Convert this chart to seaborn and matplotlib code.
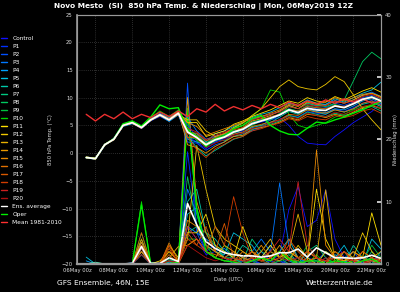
import numpy as np
import pandas as pd
import matplotlib
matplotlib.use("Agg")
import matplotlib.pyplot as plt
from matplotlib.lines import Line2D
import seaborn as sns

# time axis: hours since 06May 00z, 12-hourly steps up to 22May 12z
hours = np.arange(12, 397, 12)
days = hours / 24.0

members = ["Control"] + [f"P{i}" for i in range(1, 21)]
member_colors = ["#1010ff", "#0030ff", "#0050ff", "#0078ff", "#00a0ff", "#00c0e0",
                 "#00c8a8", "#00c880", "#00c860", "#00c040", "#00d400",
                 "#ffe000", "#f0c800", "#e8b000", "#e89800", "#e88800", "#e07000",
                 "#d85800", "#d03c00", "#cc2020", "#aa1010"]

# 850 hPa temperature (degC) per member
t_control = [-0.8, -1.1, 1.4, 2.6, 5.1, 5.4, 4.4, 5.8, 6.6, 5.8, 7.0,
             3.0, 2.0, 0.8, 2.0, 2.6, 3.4, 4.0, 5.2, 5.6, 6.0, 6.4,
             5.0, 3.0, 1.8, 1.6, 1.5, 3.0, 4.2, 5.5, 6.5, 7.5, 9.0]
t_p1 = [-0.9, -1.0, 1.6, 2.4, 4.9, 5.6, 4.8, 6.2, 7.0, 6.2, 7.4,
        5.0, 3.0, 1.5, 2.0, 3.0, 3.0, 3.5, 4.0, 4.6, 5.5, 6.0,
        6.8, 6.5, 7.5, 7.2, 7.0, 8.0, 7.5, 8.2, 9.0, 9.5, 8.8]
t_p2 = [-0.7, -0.9, 1.5, 2.5, 5.0, 5.5, 4.5, 6.1, 6.9, 5.9, 7.3,
        2.0, 1.8, 0.5, 1.5, 2.0, 3.8, 4.5, 5.5, 6.0, 6.5, 7.0,
        8.0, 7.5, 8.5, 8.0, 8.2, 9.0, 8.6, 9.2, 10.0, 10.4, 9.8]
t_p3 = [-0.8, -1.0, 1.3, 2.7, 5.2, 5.7, 4.6, 6.0, 7.2, 6.4, 7.6,
        6.5, 4.0, 2.5, 3.0, 3.5, 4.5, 5.0, 6.0, 6.6, 7.0, 7.5,
        8.6, 8.0, 9.0, 8.5, 8.8, 9.5, 9.0, 9.6, 10.5, 11.0, 10.2]
t_p4 = [-0.9, -1.1, 1.5, 2.4, 4.8, 5.3, 4.7, 5.9, 6.7, 5.7, 6.9,
        2.5, 2.0, 1.5, 3.0, 3.4, 4.0, 3.6, 4.6, 5.0, 6.0, 6.8,
        7.8, 7.2, 8.0, 7.5, 7.3, 8.0, 7.8, 8.5, 9.4, 9.8, 9.0]
t_p5 = [-0.8, -1.0, 1.6, 2.6, 5.0, 5.6, 4.8, 6.2, 7.1, 6.3, 7.4,
        3.5, 3.5, 2.0, 3.5, 4.0, 4.8, 5.5, 6.4, 7.0, 7.4, 8.2,
        9.0, 8.6, 9.6, 9.0, 8.8, 9.8, 9.2, 10.0, 10.8, 11.4, 12.8]
t_p6 = [-0.8, -1.0, 1.5, 2.5, 5.0, 5.5, 4.6, 6.0, 6.9, 6.1, 7.2,
        3.0, 1.0, -0.5, 0.5, 1.5, 2.5, 3.0, 4.2, 4.8, 5.5, 6.5,
        7.5, 7.0, 7.8, 7.4, 7.0, 7.8, 7.4, 8.0, 8.8, 9.2, 8.4]
t_p7 = [-0.7, -0.9, 1.4, 2.6, 5.1, 5.6, 4.7, 6.1, 7.0, 6.0, 7.3,
        2.8, 2.6, 1.8, 2.6, 2.2, 3.0, 3.5, 4.8, 5.0, 5.2, 5.8,
        6.8, 6.4, 7.4, 7.0, 6.6, 7.2, 6.8, 7.2, 8.0, 8.4, 7.6]
t_p8 = [-0.8, -1.0, 1.5, 2.4, 4.9, 5.4, 4.5, 5.9, 6.8, 6.0, 7.1,
        4.0, 3.0, 1.8, 2.8, 3.2, 4.0, 4.4, 5.6, 6.0, 6.4, 7.0,
        8.4, 8.0, 9.0, 8.6, 8.4, 9.0, 9.6, 13.0, 16.5, 18.2, 17.0]
t_p9 = [-0.8, -1.0, 1.6, 2.5, 5.0, 5.5, 4.6, 6.0, 6.9, 6.1, 7.2,
        4.5, 2.2, 1.2, 2.2, 2.8, 3.6, 4.2, 5.0, 5.8, 6.0, 7.2,
        8.0, 7.6, 8.6, 8.2, 8.0, 8.8, 8.2, 9.0, 9.8, 10.2, 9.6]
t_p10 = [-0.8, -1.0, 1.5, 2.5, 5.2, 5.8, 4.8, 6.4, 7.6, 6.6, 7.8,
         3.5, 2.4, 1.2, 2.6, 3.4, 4.6, 5.4, 6.6, 8.0, 11.4, 11.0,
         7.0, 5.0, 4.5, 5.0, 5.5, 6.5, 7.0, 7.8, 8.4, 8.6, 8.2]
t_p11 = [-0.7, -0.9, 1.4, 2.5, 5.0, 5.5, 4.7, 6.0, 7.0, 6.2, 7.4,
         5.5, 5.5, 3.0, 3.5, 4.0, 5.2, 5.8, 6.6, 7.2, 7.8, 8.6,
         9.4, 9.0, 10.0, 9.4, 9.2, 10.2, 9.6, 10.4, 11.2, 11.8, 11.0]
t_p12 = [-0.8, -1.1, 1.5, 2.6, 5.0, 5.4, 4.5, 5.9, 6.8, 5.9, 7.0,
         6.0, 6.0, 4.0, 3.0, 3.5, 4.6, 5.4, 6.8, 8.0, 10.0, 12.0,
         13.2, 12.0, 11.6, 11.4, 12.4, 13.8, 12.9, 10.5, 8.0, 6.0, 4.2]
t_p13 = [-0.8, -1.0, 1.5, 2.4, 4.9, 5.5, 4.6, 6.1, 6.9, 6.0, 7.2,
         4.0, 3.2, 1.6, 2.6, 3.0, 3.8, 4.6, 5.8, 6.2, 6.8, 7.6,
         8.6, 8.0, 9.2, 8.8, 8.6, 9.4, 9.0, 9.6, 10.4, 10.8, 10.2]
t_p14 = [-0.8, -1.0, 1.6, 2.6, 5.1, 5.6, 4.6, 6.0, 7.0, 6.2, 7.5,
         1.5, 1.0, 0.0, 1.2, 2.0, 3.0, 3.2, 4.4, 4.6, 5.0, 5.6,
         6.4, 6.0, 7.0, 6.8, 6.4, 7.0, 6.6, 7.4, 8.2, 8.6, 8.0]
t_p15 = [-0.7, -0.9, 1.4, 2.5, 5.0, 5.4, 4.5, 5.9, 6.8, 6.0, 7.0,
         5.5, 4.8, 3.2, 3.8, 4.4, 5.0, 5.6, 6.2, 6.6, 7.2, 7.8,
         8.8, 8.4, 9.4, 9.0, 9.2, 10.0, 9.4, 10.0, 10.6, 10.8, 10.0]
t_p16 = [-0.8, -1.0, 1.5, 2.5, 5.0, 5.6, 4.7, 6.1, 6.9, 6.1, 7.3,
         2.8, 2.8, 1.4, 2.4, 2.8, 3.4, 3.8, 4.8, 5.2, 5.6, 6.0,
         7.0, 6.8, 7.8, 7.4, 7.2, 7.8, 7.4, 8.0, 9.0, 9.4, 8.6]
t_p17 = [-0.8, -1.1, 1.6, 2.4, 4.9, 5.5, 4.6, 6.0, 6.8, 6.0, 7.2,
         3.8, 3.6, 2.2, 2.8, 3.6, 4.2, 4.6, 5.4, 5.8, 6.6, 7.0,
         7.8, 7.6, 8.4, 8.2, 8.0, 8.6, 8.4, 9.0, 9.6, 10.0, 9.4]
t_p18 = [-0.9, -1.0, 1.5, 2.5, 5.0, 5.5, 4.6, 6.0, 6.9, 6.0, 7.1,
         3.0, 0.6, -0.8, 0.8, 1.6, 2.6, 3.0, 4.0, 4.4, 5.0, 5.4,
         6.2, 5.8, 6.6, 6.2, 6.0, 6.8, 6.4, 6.8, 7.6, 8.0, 7.2]
t_p19 = [-0.8, -1.0, 1.4, 2.6, 5.1, 5.6, 4.5, 6.0, 7.0, 6.1, 7.3,
         4.5, 3.8, 2.4, 3.2, 3.8, 4.4, 5.0, 6.0, 6.4, 7.0, 7.4,
         8.4, 8.0, 8.8, 8.4, 8.6, 9.4, 9.0, 9.4, 10.2, 10.6, 9.8]
t_p20 = [-0.8, -1.0, 1.5, 2.5, 5.0, 5.5, 4.6, 6.1, 6.9, 6.0, 7.2,
         3.5, 2.6, 1.0, 1.8, 2.4, 3.2, 3.6, 4.4, 4.8, 5.4, 6.0,
         6.6, 6.2, 7.2, 6.8, 6.6, 7.4, 7.0, 7.6, 8.4, 8.8, 8.0]
t_oper = [-0.8, -1.0, 1.5, 2.6, 5.3, 5.8, 4.9, 6.5, 8.7, 8.0, 8.2,
          4.2, 3.0, 1.2, 2.6, 3.0, 4.4, 5.0, 6.2, 6.8, 5.0, 4.0,
          3.4, 3.3, 4.5, 5.6, 5.4, 6.0, 6.5, 7.2, 7.8, 8.6, 9.3]
t_mean = [-0.8, -1.0, 1.5, 2.5, 5.0, 5.5, 4.6, 6.0, 6.9, 6.0, 7.2,
          3.8, 2.8, 1.5, 2.4, 2.9, 3.8, 4.3, 5.3, 5.8, 6.3, 6.9,
          7.8, 7.3, 8.1, 7.8, 7.7, 8.5, 8.2, 8.9, 9.7, 10.1, 9.4]
t_clim = [7.0, 5.8, 7.0, 6.2, 7.4, 6.2, 7.0, 6.4, 7.4, 6.6, 7.6,
          6.6, 8.0, 7.4, 8.8, 7.6, 8.4, 7.8, 8.6, 8.0, 8.8, 8.2,
          9.2, 8.6, 9.4, 8.8, 9.6, 9.0, 9.8, 9.2, 9.8, 9.0, 9.4]

# precipitation (mm) per member
r_control = [0, 0, 0, 0, 0, 0, 1.5, 0, 0, 0.3, 0.5,
             6, 4, 1.5, 2, 1, 0.5, 0, 0.8, 0, 0.5, 1.5,
             8.7, 12.4, 6, 7, 11.9, 4, 1, 0.5, 0.3, 1, 0]
r_p1 = [0, 0, 0, 0, 0, 0, 2.5, 0, 0, 0.4, 0,
        18, 6, 2, 3, 1, 0, 0.5, 1, 2, 0.5, 0,
        0.8, 1, 0, 0.5, 2, 1, 0, 0.3, 1, 0, 0.5]
r_p2 = [0, 0, 0, 0, 0, 0, 3, 0, 0, 0, 0.4,
        29, 5, 2, 1, 0.5, 1, 0, 0.5, 0, 0, 0.5,
        0, 0, 1, 0.5, 0, 0, 1, 2, 0, 0.5, 1]
r_p3 = [0, 0, 0, 0, 0, 0.2, 2, 0, 0, 0.5, 0,
        12, 8, 3, 2, 2.5, 1, 0.5, 2, 4, 2, 13,
        3, 1, 0.5, 0, 1, 0, 0.5, 0, 1, 0.5, 0]
r_p4 = [0.5, 0, 0, 0, 0, 0, 3.5, 0, 0, 0, 0.5,
        6, 5, 4, 3, 1, 2, 1, 0.5, 1, 3, 1,
        0.5, 0, 2, 1, 0, 1.5, 0.5, 0, 1, 0, 2]
r_p5 = [1.1, 0, 0, 0, 0, 0, 2, 0.2, 0, 0.3, 0,
        8, 9, 3, 2, 1.5, 5, 4, 3, 1, 0.5, 2,
        4, 1, 0.5, 0, 0.5, 1, 3, 0.5, 0, 4, 2.4]
r_p6 = [0, 0, 0, 0, 0, 0, 1.5, 0, 0, 0.5, 0.5,
        10, 12, 5, 4, 2, 1, 3, 2, 1, 0, 1,
        2, 0, 1, 0, 2, 1, 0, 3, 1, 0, 1]
r_p7 = [0, 0.3, 0, 0, 0, 0, 4, 0, 0, 0.8, 0,
        5, 6, 3, 2, 1, 0.5, 0.5, 4, 2, 1, 0.5,
        1.5, 0, 2, 3, 1, 0, 0.5, 1, 0, 2, 0]
r_p8 = [0, 0, 0, 0, 0, 0, 2.5, 0, 0, 0, 0.3,
        14, 6, 5, 3, 1, 1, 0, 1, 0.5, 2, 1,
        0, 0.5, 0, 1, 0, 2, 1, 0, 0.5, 1, 0]
r_p9 = [0, 0, 0, 0, 0, 0, 5, 0.3, 0, 0.5, 0,
        4, 4, 2, 6, 3, 1, 0.5, 0, 1, 0.5, 2,
        1, 0.5, 3, 1, 0, 0.5, 2, 0, 0.5, 3, 1]
r_p10 = [0, 0, 0, 0, 0, 0, 10, 0, 0, 0.4, 0,
         25, 8, 3, 1, 0.5, 0.5, 0, 1, 0.5, 0, 0.5,
         1, 0.5, 0, 1.5, 0, 1, 0, 0.5, 0, 0, 1]
r_p11 = [0, 0, 0, 0, 0, 0, 3, 0, 0.5, 2, 0.5,
         5, 5, 8, 3, 2, 1, 6, 2, 1, 3, 1,
         2, 1, 0.5, 12, 4, 1, 0.5, 2, 1, 8.2, 3]
r_p12 = [0, 0, 0, 0, 0, 0, 2, 0, 0, 3, 1,
         4, 19, 12, 6, 4, 3, 2, 1, 0.5, 1, 2,
         0.5, 3, 1, 0, 2, 1, 0.5, 1, 5, 2, 0.5]
r_p13 = [0, 0, 0, 0, 0, 0, 3, 0, 0, 1, 2.8,
         3, 4, 2, 1, 3, 2, 1, 0.5, 2, 4, 1,
         2, 8, 2, 1, 11.9, 0, 2, 1, 0, 1, 2]
r_p14 = [0, 0, 0, 0, 0, 0, 4, 0, 0, 2, 0.5,
         26.7, 10, 5, 2, 1, 0.5, 1, 2, 0.5, 1, 3,
         1, 0, 0.5, 1, 0, 2, 1, 0, 2, 1, 0]
r_p15 = [0, 0, 0, 0, 0, 0, 3.5, 0, 0, 3.4, 0.5,
         7, 6, 3, 2, 1, 0.5, 2, 1, 3, 1, 0.5,
         2, 1, 0.5, 18.3, 3, 1, 0.5, 2, 1, 0.5, 0]
r_p16 = [0, 0, 0, 0, 0, 0, 2, 0, 0, 1.5, 0,
         3, 4, 2, 1.5, 1, 2, 0.5, 1, 0.5, 2, 1,
         3, 1, 2, 1, 0.5, 1, 2, 0.5, 1, 0, 0.5]
r_p17 = [0, 0, 0, 0, 0, 0, 5, 0, 0, 2.5, 0,
         5, 3, 6, 2, 6.5, 1, 0.5, 2, 1, 0.5, 1,
         4, 2, 0.5, 1, 0.5, 2, 1, 0.5, 2, 1, 0.5]
r_p18 = [0, 0, 0, 0, 0, 0, 3, 0, 0, 3, 0,
         4, 3, 2, 6, 3, 10.8, 5, 1, 0.5, 1, 2,
         1, 0.5, 2, 1, 0.5, 0, 1, 0.5, 0, 0.5, 1]
r_p19 = [0, 0, 0, 0, 0, 0, 2.5, 0, 0, 0.5, 0,
         6, 4, 2, 1, 0.5, 1, 0.5, 0.5, 1, 2, 4,
         2, 13.2, 3, 1, 0.5, 1, 2, 0.5, 0, 1, 0.5]
r_p20 = [0, 0, 0, 0, 0, 0, 1.5, 0, 0, 0.5, 0.3,
         3, 2, 1, 0.5, 1, 0.5, 0, 1, 0.5, 0, 1,
         0.5, 1, 0.5, 0, 1, 0.5, 0, 1, 0.5, 0, 0.5]
r_oper = [0, 0, 0, 0, 0, 0, 9.5, 0, 0, 0, 0.3,
          24, 9, 2, 1, 0.5, 0.3, 0, 0.5, 1, 0.5, 2,
          0.8, 0, 0.5, 0.5, 0, 0.5, 0.3, 0, 0.5, 0.8, 0]
r_mean = [0, 0.1, 0, 0, 0, 0.1, 2.8, 0.1, 0.1, 1.0, 0.4,
          9.7, 6.3, 3.6, 2.5, 1.8, 1.5, 1.3, 1.3, 1.1, 1.3, 1.8,
          1.8, 2.4, 1.1, 2.6, 1.8, 1.0, 1.0, 0.9, 1.0, 1.4, 0.9]

temp_rows = [t_control, t_p1, t_p2, t_p3, t_p4, t_p5, t_p6, t_p7, t_p8, t_p9, t_p10,
             t_p11, t_p12, t_p13, t_p14, t_p15, t_p16, t_p17, t_p18, t_p19, t_p20]
rain_rows = [r_control, r_p1, r_p2, r_p3, r_p4, r_p5, r_p6, r_p7, r_p8, r_p9, r_p10,
             r_p11, r_p12, r_p13, r_p14, r_p15, r_p16, r_p17, r_p18, r_p19, r_p20]

df_t = pd.DataFrame({"day": np.tile(days, len(members)),
                     "value": np.concatenate(temp_rows),
                     "member": np.repeat(members, len(days))})
df_r = pd.DataFrame({"day": np.tile(days, len(members)),
                     "value": np.concatenate(rain_rows),
                     "member": np.repeat(members, len(days))})
palette = dict(zip(members, member_colors))

sns.set_theme(style="dark", rc={"figure.facecolor": "black", "axes.facecolor": "black",
                                "savefig.facecolor": "black"})
plt.rcParams["font.family"] = ["DejaVu Sans"]

fig = plt.figure(figsize=(4, 2.92), dpi=100)
ax = fig.add_axes([0.1925, 0.0959, 0.76, 0.8544])
ax2 = ax.twinx()
ax.set_zorder(ax2.get_zorder() + 1)
ax.patch.set_visible(False)
ax2.patch.set_facecolor("black")

# precipitation on the right axis
sns.lineplot(data=df_r, x="day", y="value", hue="member", palette=palette,
             estimator=None, legend=False, linewidth=0.6, ax=ax2)
sns.lineplot(x=days, y=r_oper, color="#00ee00", linewidth=0.9, ax=ax2)
sns.lineplot(x=days, y=r_mean, color="white", linewidth=1.2, ax=ax2)

# temperature on the left axis
sns.lineplot(data=df_t, x="day", y="value", hue="member", palette=palette,
             estimator=None, legend=False, linewidth=0.6, ax=ax)
sns.lineplot(x=days, y=t_oper, color="#00ee00", linewidth=1.0, ax=ax)
sns.lineplot(x=days, y=t_clim, color="#ee3030", linewidth=1.0, ax=ax)
sns.lineplot(x=days, y=t_mean, color="white", linewidth=1.3, ax=ax)

ax.set_xlim(0, 16.5)
ax.set_ylim(-20, 25)
ax2.set_ylim(0, 40)
ax.set_yticks(range(-20, 26, 5))
ax2.set_yticks(range(0, 41, 10))
ax.set_xticks(range(0, 17, 2))
ax.set_xticklabels([f"{6 + 2 * i:02d}May 00z" for i in range(9)])
ax.set_xticks(range(0, 17), minor=True)

ax.grid(False)
ax2.grid(False)
ax.grid(True, which="major", axis="y", color="#555555", linestyle=(0, (1, 2)), linewidth=0.5)
ax.grid(True, which="minor", axis="x", color="#555555", linestyle=(0, (1, 2)), linewidth=0.5)

ax.tick_params(axis="both", which="both", colors="#dddddd", labelsize=3.8, length=0, pad=3)
ax2.tick_params(axis="y", colors="#dddddd", labelsize=3.8, length=3, direction="in", pad=3)
ax2.tick_params(axis="x", length=0)

ax.set_xlabel("Date (UTC)", color="#dddddd", fontsize=3.8, labelpad=3)
ax.set_ylabel("850 hPa Temp. (°C)", color="#dddddd", fontsize=3.8, labelpad=6)
ax2.set_ylabel("Niederschlag (mm)", color="#dddddd", fontsize=3.8, labelpad=1)

for a in (ax, ax2):
    for s in a.spines.values():
        s.set_color("#999999")
        s.set_linewidth(0.8)
ax.spines["bottom"].set_linewidth(1.6)
ax.spines["left"].set_linewidth(1.2)

handles = [Line2D([], [], color=c, linewidth=1.0) for c in member_colors]
handles += [Line2D([], [], color="white", linewidth=1.0),
            Line2D([], [], color="#00ee00", linewidth=1.0),
            Line2D([], [], color="#ff3030", linewidth=1.0)]
labels = members + ["Ens. average", "Oper", "Mean 1981-2010"]
fig.legend(handles, labels, loc="upper left", bbox_to_anchor=(0.0, 1 - 35 / 292),
           frameon=False, fontsize=4.2, labelcolor="white", handlelength=1.0,
           handletextpad=0.9, labelspacing=0.50, borderaxespad=0, borderpad=0.2)

fig.text(0.51, 1 - 6.5 / 292, "Novo Mesto  (SI)  850 hPa Temp. & Niederschlag | Mon, 06May2019 12Z",
         color="white", fontsize=5.3, fontweight="bold", ha="center", va="center")
fig.text(57 / 400, 1 - 283 / 292, "GFS Ensemble, 46N, 15E", color="white",
         fontsize=5.4, ha="left", va="center")
fig.text(306 / 400, 1 - 283 / 292, "Wetterzentrale.de", color="white",
         fontsize=5.4, ha="left", va="center")

fig.savefig("out.png", dpi=100, facecolor="black")
